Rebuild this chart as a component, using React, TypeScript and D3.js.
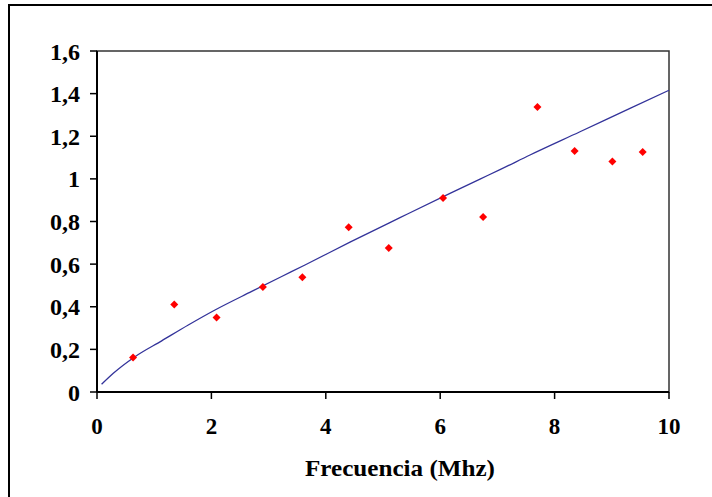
import React from "react";
import * as d3 from "d3";

const freqX = [0.63, 1.35, 2.09, 2.9, 3.59, 4.4, 5.1, 6.05, 6.75, 7.7, 8.35, 9.01, 9.54];
const valY = [0.162, 0.41, 0.35, 0.493, 0.538, 0.773, 0.676, 0.91, 0.821, 1.337, 1.131, 1.081, 1.126];

const trendX = [0.08, 0.285, 0.664, 1.131, 1.596, 2.063, 2.705, 3.229, 3.636, 4.423, 5.297, 6.171, 6.696, 7.045, 7.57, 8.444, 9.318, 10];
const trendY = [0.036, 0.0877, 0.1656, 0.24, 0.3144, 0.3848, 0.472, 0.542, 0.596, 0.703, 0.818, 0.932, 0.999, 1.043, 1.112, 1.221, 1.331, 1.416];

const xTicks = [0, 2, 4, 6, 8, 10];
const yTicks = [0, 0.2, 0.4, 0.6, 0.8, 1, 1.2, 1.4, 1.6];
const xTitle = "Frecuencia (Mhz)";

export default function App() {
  const W = 712, H = 497;
  const L = 97, R = 669, T = 51, B = 392;
  const x = d3.scaleLinear().domain([0, 10]).range([L, R]);
  const y = d3.scaleLinear().domain([0, 1.6]).range([B, T]);
  const fmt = (v: number) => String(v).replace(".", ",");
  const line = d3
    .line<number>()
    .x((_, i) => x(trendX[i]))
    .y((_, i) => y(trendY[i]))
    .curve(d3.curveMonotoneX);
  const font = "'Liberation Serif', 'Times New Roman', serif";
  return (
    <svg width={W} height={H} style={{ position: "absolute", left: 0, top: 0 }}>
      <rect x={0} y={0} width={W} height={H} fill="#fff" />
      <rect x={9} y={5} width={740} height={520} fill="none" stroke="#000" strokeWidth={2} />
      <rect x={L} y={T} width={R - L} height={B - T} fill="none" stroke="#333" strokeWidth={1.5} />
      <line x1={L} x2={L} y1={T} y2={B} stroke="#000" strokeWidth={2} />
      <line x1={L} x2={R} y1={B} y2={B} stroke="#000" strokeWidth={2} />
      {yTicks.map((t) => (
        <g key={"y" + t}>
          <line x1={L - 7} x2={L} y1={y(t)} y2={y(t)} stroke="#000" strokeWidth={1.5} />
          <text x={80} y={y(t) + 8.5} textAnchor="end" fontFamily={font} fontWeight="bold" fontSize={24}>
            {fmt(t)}
          </text>
        </g>
      ))}
      {xTicks.map((t) => (
        <g key={"x" + t}>
          <line x1={x(t)} x2={x(t)} y1={B} y2={B + 7} stroke="#000" strokeWidth={1.5} />
          <text x={x(t)} y={434} textAnchor="middle" fontFamily={font} fontWeight="bold" fontSize={23}>
            {fmt(t)}
          </text>
        </g>
      ))}
      <text
        x={305}
        y={476}
        fontFamily={font}
        fontWeight="bold"
        fontSize={24}
        textLength={190}
        lengthAdjust="spacingAndGlyphs"
      >
        {xTitle}
      </text>
      <path d={line(trendX) || ""} fill="none" stroke="#33339a" strokeWidth={1.3} />
      {freqX.map((fx, i) => {
        const cx = x(fx), cy = y(valY[i]);
        return (
          <path key={i} d={`M${cx},${cy - 4}L${cx + 4},${cy}L${cx},${cy + 4}L${cx - 4},${cy}Z`} fill="#ff0000" />
        );
      })}
    </svg>
  );
}
